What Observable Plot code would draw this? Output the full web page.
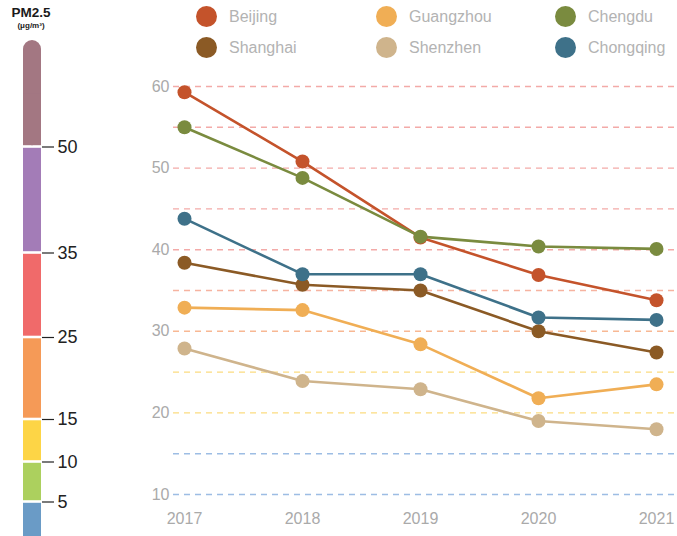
<!DOCTYPE html>
<html>
<head>
<meta charset="utf-8">
<script src="https://cdn.jsdelivr.net/npm/d3@7"></script>
<script src="https://cdn.jsdelivr.net/npm/@observablehq/plot@0.6"></script>
<style>
  body { margin: 0; background: white; font-family: "Liberation Sans", Arial, sans-serif; }
  #wrap { position: relative; width: 677px; height: 536px; overflow: hidden; }
  #bar { position: absolute; left: 0; top: 0; }
  #main { position: absolute; left: 120px; top: 0; }
  .ttl { position: absolute; left: 0; width: 62px; text-align: center; font-weight: bold; color: #1a1a1a; }
  .leg { position: absolute; font-size: 16px; color: #b3b3b3; line-height: 21px; }
  .leg span.dot { position: absolute; width: 21px; height: 21px; border-radius: 50%; }
</style>
</head>
<body>
<div id="wrap">
  <div id="bar"></div>
  <div id="main"></div>
  <div class="ttl" style="top:5px;font-size:13.5px;">PM2.5</div>
  <div class="ttl" style="top:21px;font-size:8px;">(μg/m³)</div>
  <div id="legend"></div>
</div>
<script>
// ---- data ----
const years = [2017, 2018, 2019, 2020, 2021];
const cities = ["Beijing", "Guangzhou", "Chengdu", "Shanghai", "Shenzhen", "Chongqing"];
const cityColors = ["#c4532b", "#f0ae55", "#7a8b3f", "#8b5a25", "#cfb48c", "#3e7189"];
const beijing   = [59.3, 50.8, 41.5, 36.9, 33.8];
const guangzhou = [32.9, 32.6, 28.4, 21.8, 23.5];
const chengdu   = [55.0, 48.8, 41.6, 40.4, 40.1];
const shanghai  = [38.4, 35.7, 35.0, 30.0, 27.4];
const shenzhen  = [27.9, 23.9, 22.9, 19.0, 18.0];
const chongqing = [43.8, 37.0, 37.0, 31.7, 31.4];
const seriesValues = [beijing, guangzhou, chengdu, shanghai, shenzhen, chongqing];

const gridValues = [10, 15, 20, 25, 30, 35, 40, 45, 50, 55, 60];
const gridColors = ["#9dbde4", "#9dbde4", "#fcdc80", "#fcdc80", "#f8b893", "#f6b3a0", "#f3aaa8", "#f3aaa8", "#f3aaa8", "#f3aaa8", "#f3aaa8"];
const yTicks = [10, 20, 30, 40, 50, 60];

// colour bar (PM2.5 bands)
const bandLower = [0, 5, 10, 15, 25, 35, 50];
const bandUpper = [5, 10, 15, 25, 35, 50, 65];
const bandColors = ["#6a9bc6", "#acd05e", "#fdd546", "#f59a57", "#f06a6a", "#a37cb7", "#a37782"];
const barTicks = [5, 10, 15, 25, 35, 50];

// ---- build tables ----
const rows = [];
cities.forEach((c, i) => years.forEach((y, j) => rows.push({city: c, year: y, value: seriesValues[i][j]})));
const grid = gridValues.map((v, i) => ({v, color: gridColors[i]}));
const bands = bandLower.map((lo, i) => ({lo, hi: bandUpper[i], color: bandColors[i]}));
const topBand = bands[bands.length - 1];

// ---- colour bar ----
const bar = Plot.plot({
  width: 120, height: 536,
  marginLeft: 23, marginRight: 79, marginTop: 0, marginBottom: 0,
  style: {fontFamily: "Liberation Sans, Arial, sans-serif"},
  y: {type: "linear", domain: [0, 5, 10, 15, 25, 35, 50, 65], range: [541, 501.5, 461.5, 419, 337, 252.5, 146.5, 40]},
  marks: [
    Plot.rectY(bands.slice(0, -1), {y1: "lo", y2: "hi", fill: "color", insetTop: 1.3, insetBottom: 1.3}),
    Plot.rectY([topBand], {y1: "lo", y2: "hi", fill: "color", insetBottom: 1.3, rx: 9}),
    Plot.rectY([topBand], {y1: "lo", y2: (d) => (d.lo + d.hi) / 2, fill: "color", insetBottom: 1.3}),
    Plot.axisY(barTicks, {anchor: "right", tickSize: 12, tickPadding: 4, fontSize: 18, stroke: "#222", fill: "#222", tickFormat: d => d, label: null, strokeWidth: 1.2})
  ]
});
bar.style.background = "none";
document.getElementById("bar").appendChild(bar);

// ---- main chart ----
const main = Plot.plot({
  width: 557, height: 536,
  marginLeft: 53, marginRight: 0, marginTop: 86, marginBottom: 42,
  style: {fontFamily: "Liberation Sans, Arial, sans-serif"},
  x: {type: "linear", domain: [2017, 2021], insetLeft: 11, insetRight: 21},
  y: {domain: [10, 60]},
  color: {domain: cities, range: cityColors},
  marks: [
    Plot.ruleY(grid, {y: "v", stroke: "color", strokeDasharray: "6,5", strokeWidth: 1.4}),
    Plot.axisY(yTicks, {tickSize: 0, tickPadding: 4, fontSize: 16, fill: "#aaa", label: null}),
    Plot.axisX(years, {tickSize: 0, tickPadding: 18, fontSize: 16, fill: "#aaa", tickFormat: d => String(d), label: null}),
    Plot.line(rows, {x: "year", y: "value", z: "city", stroke: "city", strokeWidth: 2.6}),
    Plot.dot(rows, {x: "year", y: "value", fill: "city", r: 7})
  ]
});
document.getElementById("main").appendChild(main);

// ---- legend ----
const legend = document.getElementById("legend");
const legX = [196, 376, 555];
const legY = [6, 37];
cities.forEach((c, i) => {
  const col = i % 3, row = Math.floor(i / 3);
  const d = document.createElement("div");
  d.className = "leg";
  d.style.left = legX[col] + "px";
  d.style.top = legY[row] + "px";
  d.innerHTML = `<span class="dot" style="left:0;top:0;background:${cityColors[i]}"></span><span style="position:absolute;left:33px;top:0px;white-space:nowrap">${c}</span>`;
  legend.appendChild(d);
});
</script>
</body>
</html>
